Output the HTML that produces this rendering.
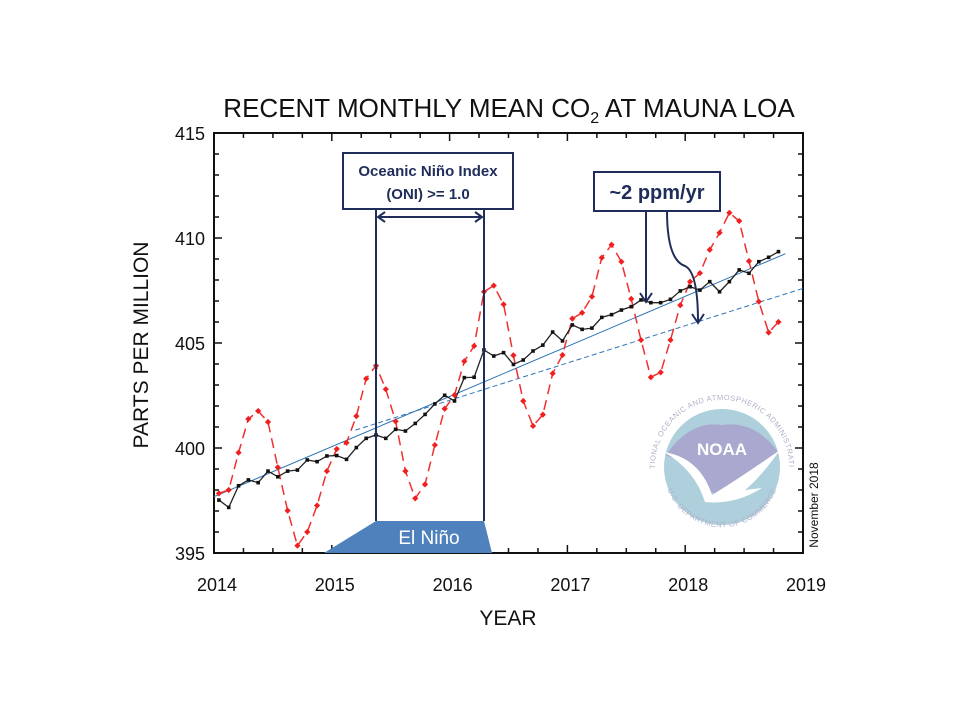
<!DOCTYPE html>
<html><head><meta charset="utf-8"><style>
html,body{margin:0;padding:0;background:#fff;}
svg{display:block;font-family:"Liberation Sans",sans-serif;}
</style></head><body>
<svg id="chart" width="960" height="720" viewBox="0 0 960 720">
<text x="509" y="117" text-anchor="middle" font-size="26" fill="#111">RECENT MONTHLY MEAN CO<tspan font-size="16" dy="6">2</tspan><tspan dy="-6"> AT MAUNA LOA</tspan></text>
<text x="508" y="625" text-anchor="middle" font-size="21" fill="#111">YEAR</text>
<text transform="translate(148,345) rotate(-90)" text-anchor="middle" font-size="21" fill="#111">PARTS PER MILLION</text>
<g id="axes"></g>
<g id="logo">
<circle cx="722" cy="467" r="58" fill="#aed0dc"/>
<path d="M666,455 Q690,420 722,425 Q755,420 778,452 Q760,470 742,478 Q722,500 705,490 Q700,470 666,455Z" fill="#a9a9cf"/>
<path d="M664,452 Q700,458 712,495 Q740,478 780,450 Q760,478 745,490 L762,488 Q735,505 705,502 Q695,470 664,452Z" fill="#fff"/>
<text x="722" y="455" text-anchor="middle" font-size="17" font-weight="bold" fill="#fff">NOAA</text>
<path id="arcTop" d="M655,467 A67,67 0 0 1 789,467" fill="none"/>
<path id="arcBot" d="M665,480 A58,58 0 0 0 779,480" fill="none"/>
<text font-size="7.5" fill="#b0b0c8" letter-spacing="0.5"><textPath href="#arcTop" startOffset="50%" text-anchor="middle">NATIONAL OCEANIC AND ATMOSPHERIC ADMINISTRATION</textPath></text>
<text font-size="7.5" fill="#b0b0c8" letter-spacing="0.5"><textPath href="#arcBot" startOffset="50%" text-anchor="middle">U.S. DEPARTMENT OF COMMERCE</textPath></text>
</g>
<text transform="translate(818,505) rotate(-90)" text-anchor="middle" font-size="12" fill="#111">November 2018</text>
<g id="series"></g>
<g id="annot">
<polygon points="324,553 376,521 484,521 492,553" fill="#4f81bd"/>
<text x="429" y="544" text-anchor="middle" font-size="19" fill="#fff">El Niño</text>
<line x1="376" y1="209" x2="376" y2="521" stroke="#1f2d5a" stroke-width="2"/>
<line x1="484" y1="209" x2="484" y2="521" stroke="#1f2d5a" stroke-width="2"/>
<line x1="378" y1="217" x2="482" y2="217" stroke="#1f2d5a" stroke-width="2"/>
<polyline points="385,212 378,217 385,222" fill="none" stroke="#1f2d5a" stroke-width="2"/>
<polyline points="475,212 482,217 475,222" fill="none" stroke="#1f2d5a" stroke-width="2"/>
<rect x="343" y="153" width="170" height="56" fill="#fff" stroke="#1f2d5a" stroke-width="2"/>
<text x="428" y="176" text-anchor="middle" font-size="15" font-weight="bold" fill="#1f2d5a">Oceanic Niño Index</text>
<text x="428" y="199" text-anchor="middle" font-size="15" font-weight="bold" fill="#1f2d5a">(ONI) &gt;= 1.0</text>
<rect x="594" y="172" width="126" height="39" fill="#fff" stroke="#1f2d5a" stroke-width="2"/>
<text x="657" y="199" text-anchor="middle" font-size="20" font-weight="bold" fill="#1f2d5a">~2 ppm/yr</text>
<line x1="646" y1="211" x2="646" y2="301" stroke="#1f2d5a" stroke-width="2"/>
<polyline points="640,293 646,302 652,293" fill="none" stroke="#1f2d5a" stroke-width="2"/>
<path d="M667,211 Q667,260 685,266 Q698,272 698,322" fill="none" stroke="#1f2d5a" stroke-width="2"/>
<polyline points="692,314 698,323 704,314" fill="none" stroke="#1f2d5a" stroke-width="2"/>
</g>
</svg>
<script>
const monthlyMean=[397.84,398.0,399.78,401.38,401.76,401.24,399.08,397.02,395.35,396.0,397.26,398.9,399.95,400.25,401.52,403.3,403.92,402.8,401.27,398.9,397.6,398.27,400.14,401.87,402.52,404.13,404.86,407.44,407.73,406.84,404.41,402.24,401.05,401.59,403.55,404.43,406.16,406.44,407.21,409.06,409.68,408.87,407.1,405.14,403.37,403.6,405.14,406.8,407.92,408.33,409.44,410.25,411.2,410.81,408.9,406.97,405.5,406.0];
const deseason=[397.52,397.17,398.2,398.48,398.35,398.9,398.63,398.9,398.95,399.43,399.35,399.62,399.64,399.46,400.02,400.46,400.62,400.46,400.89,400.81,401.17,401.6,402.1,402.51,402.24,403.35,403.37,404.67,404.38,404.54,403.98,404.19,404.62,404.9,405.52,405.1,405.86,405.65,405.71,406.22,406.35,406.57,406.73,407.05,406.92,406.92,407.08,407.48,407.68,407.52,407.92,407.44,407.92,408.48,408.32,408.87,409.08,409.35];
const startYear=2014;
const xTicks=[2014,2015,2016,2017,2018,2019];
const yTicks=[395,400,405,410,415];
const trendSolid=[[2014.0,397.68],[2018.85,409.25]];
const trendDashed=[[2015.2,400.85],[2019.0,407.6]];
const X0=214,X1=803,Y0=553,Y1=133;
const xs=t=>X0+(t-2014)/(2019-2014)*(X1-X0);
const ys=v=>Y0-(v-395)/(415-395)*(Y0-Y1);
const NS="http://www.w3.org/2000/svg";
function mk(tag,attrs,parent){const e=document.createElementNS(NS,tag);for(const k in attrs)e.setAttribute(k,attrs[k]);parent.appendChild(e);return e;}
const axes=document.getElementById('axes');
const frame=mk('rect',{x:X0,y:Y1,width:X1-X0,height:Y0-Y1,fill:'none',stroke:'#111','stroke-width':2},axes);


for(let q=0;q<=20;q++){const t=2014+q/4,x=xs(t),L=(q%4===0)?8:5;
mk('line',{x1:x,y1:Y0,x2:x,y2:Y0-L,stroke:'#111','stroke-width':1.5},axes);
mk('line',{x1:x,y1:Y1,x2:x,y2:Y1+L,stroke:'#111','stroke-width':1.5},axes);}
for(let v=395;v<=415;v++){const y=ys(v),L=(v%5===0)?8:5;
mk('line',{x1:X0,y1:y,x2:X0+L,y2:y,stroke:'#111','stroke-width':1.5},axes);
mk('line',{x1:X1,y1:y,x2:X1-L,y2:y,stroke:'#111','stroke-width':1.5},axes);}
xTicks.forEach(t=>{const e=mk('text',{x:xs(t)+3,y:Y0+38,'text-anchor':'middle','font-size':18,fill:'#111'},axes);e.textContent=t;

});
yTicks.forEach(v=>{const e=mk('text',{x:X0-9,y:ys(v)+7,'text-anchor':'end','font-size':18,fill:'#111'},axes);e.textContent=v;

});
const S=document.getElementById('series');
const mx=i=>xs(startYear+(i+0.5)/12);
const tl=mk('line',{x1:xs(trendSolid[0][0]),y1:ys(trendSolid[0][1]),x2:xs(trendSolid[1][0]),y2:ys(trendSolid[1][1]),stroke:'#2e75b6','stroke-width':1},S);


const dl=mk('line',{x1:xs(trendDashed[0][0]),y1:ys(trendDashed[0][1]),x2:xs(trendDashed[1][0]),y2:ys(trendDashed[1][1]),stroke:'#2e75b6','stroke-width':1,'stroke-dasharray':'5,3'},S);


const rl=mk('polyline',{points:monthlyMean.map((v,i)=>mx(i)+','+ys(v)).join(' '),fill:'none',stroke:'#f03030','stroke-width':1.5,'stroke-dasharray':'10,6'},S);


const bl=mk('polyline',{points:deseason.map((v,i)=>mx(i)+','+ys(v)).join(' '),fill:'none',stroke:'#222','stroke-width':1.3},S);


monthlyMean.forEach((v,i)=>{const p=mk('rect',{x:mx(i)-2.2,y:ys(v)-2.2,width:4.4,height:4.4,fill:'#f02020',transform:`rotate(45 ${mx(i)} ${ys(v)})`},S);

});
deseason.forEach((v,i)=>{const p=mk('rect',{x:mx(i)-1.8,y:ys(v)-1.8,width:3.6,height:3.6,fill:'#111'},S);

});
</script>
</body></html>
